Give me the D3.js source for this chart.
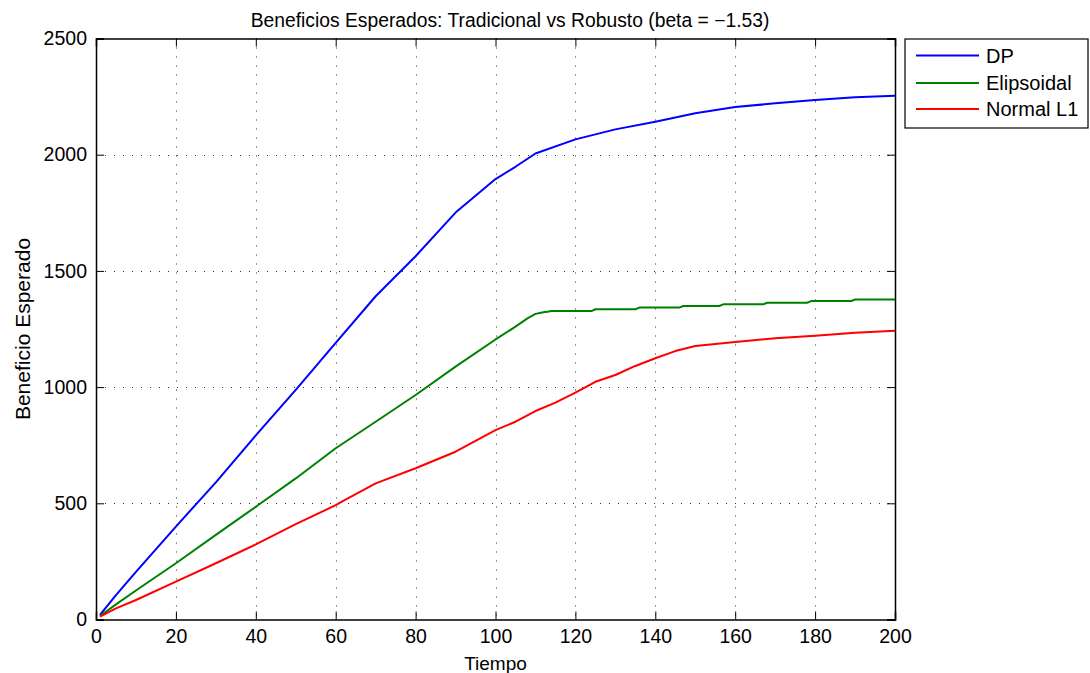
<!DOCTYPE html>
<html>
<head>
<meta charset="utf-8">
<script src="https://cdn.jsdelivr.net/npm/d3@7"></script>
<style>
  html, body { margin: 0; padding: 0; background: #fff; }
  svg { display: block; font-family: "Liberation Sans", Arial, Helvetica, sans-serif; }
</style>
</head>
<body>
<svg id="chart" width="1090" height="673"></svg>
<script>
// ---- Data ----
const titleText = "Beneficios Esperados: Tradicional vs Robusto (beta = \u22121.53)";
const xLabelText = "Tiempo";
const yLabelText = "Beneficio Esperado";
const seriesNames = ["DP", "Elipsoidal", "Normal L1"];
const seriesColors = ["#0000ff", "#008000", "#ff0000"];

const xTicks = [0, 20, 40, 60, 80, 100, 120, 140, 160, 180, 200];
const yTicks = [0, 500, 1000, 1500, 2000, 2500];

const tDP = [1, 5, 10, 20, 30, 40, 50, 60, 70, 80, 90, 100, 105, 110, 120, 130, 140, 150, 160, 170, 180, 190, 200];
const vDP = [20, 105, 205, 400, 590, 792, 988, 1190, 1391, 1563, 1751, 1895, 1948, 2005, 2066, 2109, 2142, 2178, 2205, 2221, 2235, 2247, 2254];

const tElip = [1, 5, 10, 20, 30, 40, 50, 60, 70, 80, 90, 100, 105, 108, 110, 112, 113, 114, 124, 125, 135, 136, 146, 147, 156, 157, 167, 168, 178, 179, 189, 190, 200];
const vElip = [15, 65, 125, 242, 364, 485, 607, 737, 851, 966, 1088, 1205, 1260, 1296, 1315, 1322, 1324, 1327, 1327, 1335, 1335, 1342, 1342, 1349, 1349, 1356, 1356, 1363, 1363, 1370, 1370, 1377, 1377];

const tL1 = [1, 5, 10, 20, 30, 40, 50, 60, 62, 70, 80, 90, 100, 105, 110, 115, 120, 125, 130, 135, 140, 145, 150, 160, 170, 180, 190, 200];
const vL1 = [12, 48, 84, 163, 242, 323, 410, 492, 512, 586, 651, 722, 815, 851, 897, 933, 976, 1023, 1052, 1091, 1124, 1155, 1177, 1194, 1210, 1221, 1234, 1243];

// ---- Layout ----
const svg = d3.select("#chart");
const plot = { left: 96, right: 895, top: 38.5, bottom: 619.5 };
const x = d3.scaleLinear().domain([0, 200]).range([plot.left, plot.right]);
const y = d3.scaleLinear().domain([0, 2500]).range([plot.bottom, plot.top]);
const fontSize = 19.5;

// Grid lines (dotted)
const grid = svg.append("g").attr("class", "grid");
grid.selectAll("line.vx").data(xTicks.slice(1, -1)).enter().append("line")
  .attr("x1", d => Math.round(x(d)) + 0.5).attr("x2", d => Math.round(x(d)) + 0.5)
  .attr("y1", plot.top).attr("y2", plot.bottom)
  .attr("stroke", "#333").attr("stroke-width", 1).attr("stroke-dasharray", "1,8");
grid.selectAll("line.hy").data(yTicks.slice(1, -1)).enter().append("line")
  .attr("y1", d => Math.round(y(d)) + 0.5).attr("y2", d => Math.round(y(d)) + 0.5)
  .attr("x1", plot.left).attr("x2", plot.right)
  .attr("stroke", "#333").attr("stroke-width", 1).attr("stroke-dasharray", "1,8");

// Series lines
const series = [
  { name: seriesNames[0], color: seriesColors[0], t: tDP, v: vDP },
  { name: seriesNames[1], color: seriesColors[1], t: tElip, v: vElip },
  { name: seriesNames[2], color: seriesColors[2], t: tL1, v: vL1 }
];
const line = d3.line().x(d => x(d[0])).y(d => y(d[1]));
svg.append("g").selectAll("path").data(series).enter().append("path")
  .attr("d", s => line(s.t.map((t, i) => [t, s.v[i]])))
  .attr("fill", "none").attr("stroke", s => s.color).attr("stroke-width", 2)
  .attr("stroke-linejoin", "round");

// Axes (MATLAB-like box, ticks inside on all sides)
const tickLen = 8;
const axB = svg.append("g").attr("transform", `translate(0,${plot.bottom})`)
  .call(d3.axisBottom(x).tickValues(xTicks).tickSize(-tickLen).tickPadding(tickLen + 2).tickFormat(d3.format("d")));
const axT = svg.append("g").attr("transform", `translate(0,${plot.top})`)
  .call(d3.axisTop(x).tickValues(xTicks).tickSize(-tickLen).tickFormat(""));
const axL = svg.append("g").attr("transform", `translate(${plot.left},0)`)
  .call(d3.axisLeft(y).tickValues(yTicks).tickSize(-tickLen).tickPadding(tickLen + 1).tickFormat(d3.format("d")));
const axR = svg.append("g").attr("transform", `translate(${plot.right},0)`)
  .call(d3.axisRight(y).tickValues(yTicks).tickSize(-tickLen).tickFormat(""));
[axB, axT, axL, axR].forEach(a => {
  a.selectAll("path.domain").attr("stroke", "#000").attr("stroke-width", 1.5);
  a.selectAll(".tick line").attr("stroke", "#000").attr("stroke-width", 1);
  a.selectAll(".tick text").attr("fill", "#000").attr("font-size", fontSize)
    .attr("font-family", "'Liberation Sans', Arial, sans-serif");
});

// Title and axis labels
svg.append("text").attr("x", 510).attr("y", 27)
  .attr("text-anchor", "middle").attr("font-size", 19.3).attr("fill", "#000").text(titleText);
svg.append("text").attr("x", (plot.left + plot.right) / 2).attr("y", 670)
  .attr("text-anchor", "middle").attr("font-size", 19).attr("fill", "#000").text(xLabelText);
svg.append("text").attr("transform", `translate(30,${(plot.top + plot.bottom) / 2}) rotate(-90)`)
  .attr("text-anchor", "middle").attr("font-size", 21).attr("fill", "#000").text(yLabelText);

// Legend
const lg = svg.append("g").attr("transform", "translate(905,39)");
lg.append("rect").attr("width", 183).attr("height", 89).attr("fill", "#fff")
  .attr("stroke", "#000").attr("stroke-width", 1.2);
const rowY = [16.5, 44, 70];
series.forEach((s, i) => {
  lg.append("line").attr("x1", 11).attr("x2", 74).attr("y1", rowY[i]).attr("y2", rowY[i])
    .attr("stroke", s.color).attr("stroke-width", 2);
  lg.append("text").attr("x", 81).attr("y", rowY[i] + 7).attr("font-size", 20)
    .attr("fill", "#000").text(s.name);
});
</script>
</body>
</html>
